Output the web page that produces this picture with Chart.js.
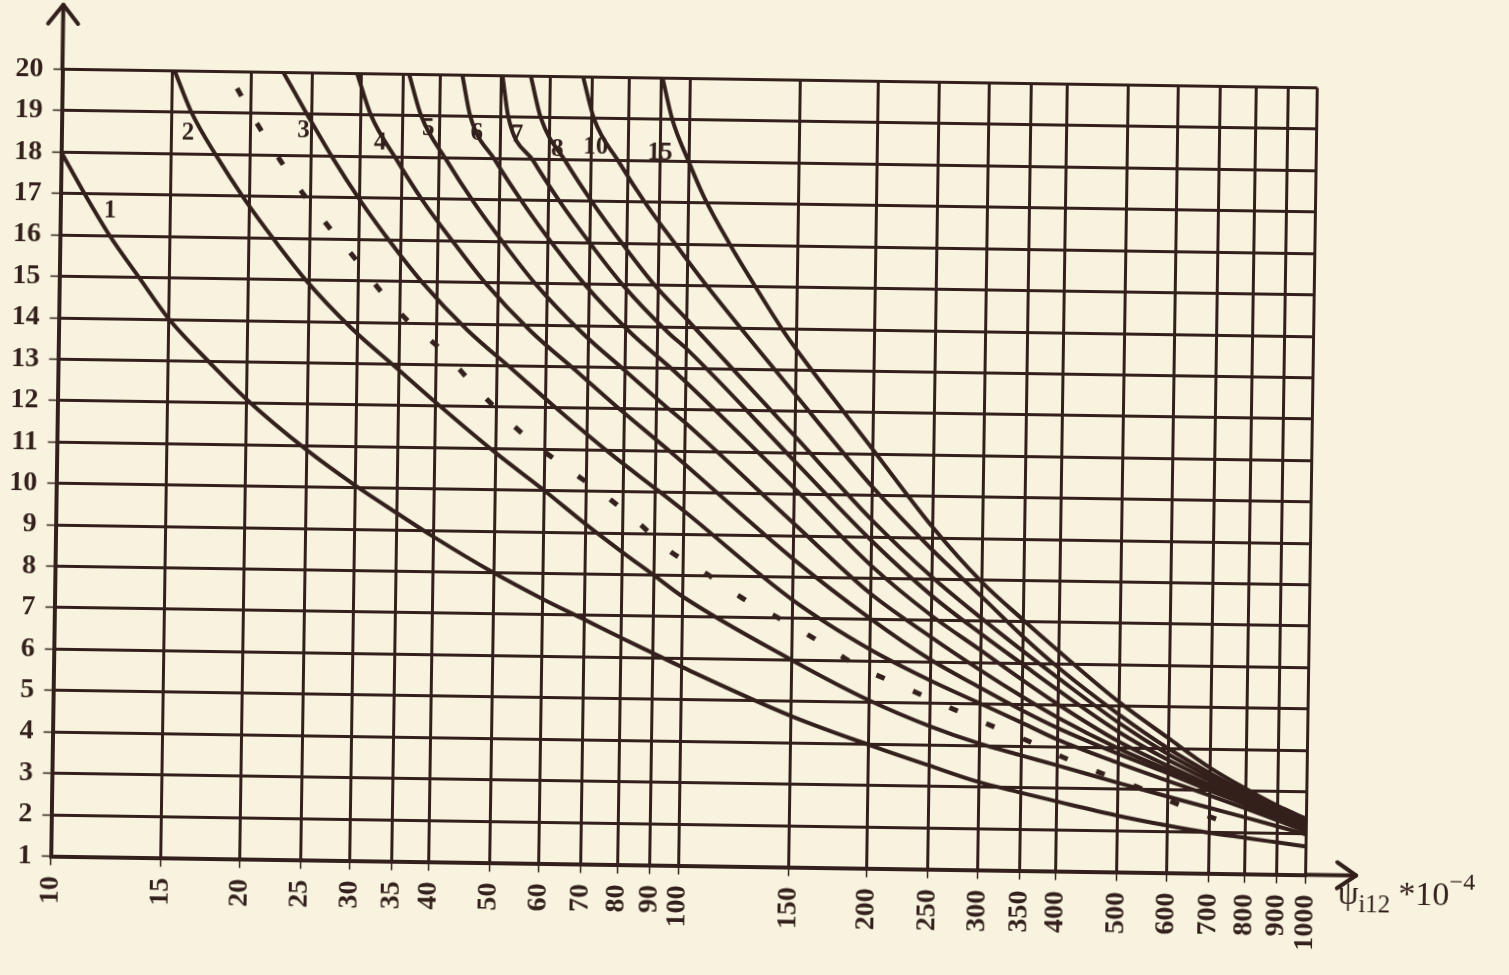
<!DOCTYPE html>
<html><head><meta charset="utf-8">
<script src="https://cdn.jsdelivr.net/npm/chart.js@4.4.1/dist/chart.umd.min.js"></script>
<style>
html,body{margin:0;padding:0;background:#f8f3de;overflow:hidden;width:1509px;height:975px;}
#wrap{position:absolute;left:0;top:0;width:1509px;height:975px;transform:rotate(0.85deg);transform-origin:684px 472px;}
canvas{display:block;}
</style></head><body>
<div id="wrap"><canvas id="c" width="1509" height="975"></canvas></div>
<script>
// ---- data ----
const xTicks = [10,15,20,25,30,35,40,50,60,70,80,90,100,150,200,250,300,350,400,500,600,700,800,900,1000];
const yTicks = [1,2,3,4,5,6,7,8,9,10,11,12,13,14,15,16,17,18,19,20];

const curve1X = [10,11,12,13.4,15,17.5,20,25,30,35,40,50,60,70,80,90,100,150,200,250,300,350,400,500,600,700,800,900,1000];
const curve1Y = [18,16.92,16.0,15.0,14.0,12.95,12.1,10.9,10.05,9.4,8.85,8.0,7.38,6.9,6.48,6.12,5.8,4.65,3.98,3.5,3.12,2.88,2.68,2.36,2.14,1.98,1.87,1.77,1.68];

const curve2X = [15.1,16.1,17.7,19.6,22.1,24.7,29.3,35,40,50,60,70,80,90,100,150,200,250,300,350,400,500,600,700,800,900,1000];
const curve2Y = [20,19,17.95,16.95,15.9,15.0,13.85,12.85,12.1,10.9,10.0,9.2,8.55,8.0,7.5,6.0,5.05,4.45,4.05,3.78,3.55,3.15,2.84,2.58,2.36,2.16,1.97];

const dashX = [19,20.5,22.3,24.3,26.6,29.7,33.2,36.3,41.2,45.8,51.3,57.4,65.8,75,85,95,108,124,145,166,190,226,260,300,356,405,466,536,625,728];
const dashY = [19.6,18.75,17.9,17.1,16.35,15.5,14.6,14.0,13.3,12.55,11.8,11.15,10.5,9.9,9.25,8.6,8.1,7.5,6.95,6.45,5.9,5.4,5.0,4.6,4.15,3.77,3.4,3.06,2.65,2.28];

const curve3X = [22.5,24.6,27.1,30.0,33.8,37.8,44.8,53.6,61.2,76.5,91.8,100,150,200,250,300,350,400,500,600,700,800,900,1000];
const curve3Y = [20,19,17.95,16.95,15.9,15.0,13.85,12.85,12.1,10.9,10.0,9.57,7.45,6.28,5.55,5.02,4.57,4.17,3.63,3.22,2.88,2.58,2.3,2.05];

const curve4X = [29.5,31.1,34.2,37.8,42.7,47.7,56.5,67.6,77.2,96.5,150,200,250,300,350,400,500,600,700,800,900,1000];
const curve4Y = [20,19,17.95,16.95,15.9,15.0,13.85,12.85,12.1,10.9,8.44,7.02,6.05,5.4,4.87,4.45,3.85,3.4,3.0,2.67,2.36,2.09];

const curve5X = [35.7,37.4,41.1,45.5,51.3,57.3,68,81.2,92.8,100,150,200,250,300,350,400,500,600,700,800,900,1000];
const curve5Y = [20,19,17.95,16.95,15.9,15.0,13.85,12.85,12.1,11.7,9.3,7.62,6.6,5.82,5.2,4.7,3.98,3.48,3.07,2.72,2.4,2.12];

const curve6X = [43.4,44.8,49.2,54.5,61.4,68.7,81.5,97.3,150,200,250,300,350,400,500,600,700,800,900,1000];
const curve6Y = [20,19,17.95,16.95,15.9,15.0,13.85,12.85,10.15,8.3,7.12,6.3,5.6,5.02,4.15,3.58,3.14,2.77,2.45,2.16];

const curve7X = [50.3,51.5,56.6,62.7,70.7,79,93.8,100,150,200,250,300,350,400,500,600,700,800,900,1000];
const curve7Y = [20,19,17.95,16.95,15.9,15.0,13.85,13.49,10.8,8.9,7.6,6.7,5.98,5.36,4.38,3.72,3.24,2.83,2.49,2.19];

const curve8X = [55.8,58,63.7,70.6,79.6,88.9,100,150,200,250,300,350,400,500,600,700,800,900,1000];
const curve8Y = [20,19,17.95,16.95,15.9,15.0,14.2,11.4,9.4,8.05,7.08,6.3,5.65,4.6,3.86,3.33,2.9,2.53,2.22];

const curve10X = [67.6,70.5,77.5,85.8,96.8,107,150,200,250,300,350,400,500,600,700,800,900,1000];
const curve10Y = [20,19,17.95,16.95,15.9,15.05,12.4,10.2,8.7,7.6,6.65,5.9,4.8,4.0,3.42,2.97,2.6,2.28];

const curve15X = [90.5,94,100,106,117,128,142,150,200,250,300,350,400,500,600,700,800,900,1000];
const curve15Y = [20,19,18,17.15,16,15.05,14.0,13.5,11.1,9.25,7.95,7.05,6.3,5.1,4.25,3.55,3.05,2.65,2.35];

const curveNames = ['1','2','3','4','5','6','7','8','10','15'];
const labelX = [12.0,15.9,24.3,32.2,38.4,45.9,53.2,61.7,71.1,90];
const labelY = [16.6,18.5,18.6,18.33,18.7,18.6,18.58,18.23,18.3,18.2];

// ---- drawing ----
const INK = '#33201c';
const SERIF = '"Liberation Serif", "DejaVu Serif", serif';
const pts = (xs, ys) => xs.map((x, i) => ({x: x, y: ys[i]}));
const solid = (xs, ys) => ({data: pts(xs, ys), borderColor: INK, borderWidth: 4, pointRadius: 0,
  cubicInterpolationMode: 'monotone', fill: false});

const datasets = [
  solid(curve1X, curve1Y), solid(curve2X, curve2Y), solid(curve3X, curve3Y), solid(curve4X, curve4Y),
  solid(curve5X, curve5Y), solid(curve6X, curve6Y), solid(curve7X, curve7Y), solid(curve8X, curve8Y),
  solid(curve10X, curve10Y), solid(curve15X, curve15Y),
  {data: pts(dashX, dashY), borderColor: INK, borderWidth: 5, borderDash: [9, 31], pointRadius: 0,
   cubicInterpolationMode: 'monotone', fill: false}
];

const extras = {
  id: 'extras',
  afterDraw(chart) {
    const ctx = chart.ctx, a = chart.chartArea, xs = chart.scales.x, ys = chart.scales.y;
    ctx.save();
    ctx.strokeStyle = INK; ctx.fillStyle = INK; ctx.lineWidth = 4; ctx.lineCap = 'round'; ctx.lineJoin = 'round';
    // y axis extension + arrow
    ctx.beginPath(); ctx.moveTo(a.left, a.top); ctx.lineTo(a.left, 14); ctx.stroke();
    ctx.beginPath(); ctx.moveTo(a.left - 15, 33); ctx.lineTo(a.left, 14); ctx.lineTo(a.left + 15, 33); ctx.stroke();
    // x axis extension + arrow
    ctx.beginPath(); ctx.moveTo(a.right, a.bottom); ctx.lineTo(1362, a.bottom); ctx.stroke();
    ctx.beginPath(); ctx.moveTo(1343, a.bottom - 13); ctx.lineTo(1362, a.bottom); ctx.lineTo(1343, a.bottom + 13); ctx.stroke();
    // axis title  ψi12 *10^-4
    let x = 1344; const base = 894;
    ctx.textBaseline = 'alphabetic'; ctx.textAlign = 'left';
    ctx.font = '33px ' + SERIF; ctx.fillText('ψ', x, base); x += ctx.measureText('ψ').width;
    ctx.font = '25px ' + SERIF; ctx.fillText('i12', x, base + 8); x += ctx.measureText('i12').width + 8;
    ctx.font = '34px ' + SERIF; ctx.fillText('*10', x, base); x += ctx.measureText('*10').width;
    ctx.font = '24px ' + SERIF; ctx.fillText('\u22124', x, base - 16);
    // curve labels
    ctx.font = 'bold 25px ' + SERIF; ctx.textAlign = 'center'; ctx.textBaseline = 'middle';
    curveNames.forEach((n, i) => {
      ctx.fillText(n, xs.getPixelForValue(labelX[i]), ys.getPixelForValue(labelY[i]));
    });
    ctx.restore();
  }
};

new Chart(document.getElementById('c'), {
  type: 'line',
  data: {datasets: datasets},
  options: {
    responsive: false, animation: false, devicePixelRatio: 1,
    layout: {padding: {left: 0, right: 197.5, top: 78.5, bottom: 0}},
    plugins: {legend: {display: false}, tooltip: {enabled: false}},
    scales: {
      x: {type: 'logarithmic', min: 10, max: 1000,
        afterBuildTicks: s => { s.ticks = xTicks.map(v => ({value: v})); },
        afterFit: s => { s.height = 975 - 865.5; },
        ticks: {autoSkip: false, maxRotation: 90, minRotation: 90, padding: 11, color: INK,
          font: {family: SERIF, size: 28, weight: 'bold'}, callback: v => String(v)},
        grid: {color: INK, lineWidth: 3, drawTicks: true, tickLength: 9, tickWidth: 1.5, tickColor: INK},
        border: {color: INK, width: 4}
      },
      y: {type: 'linear', min: 1, max: 20,
        afterBuildTicks: s => { s.ticks = yTicks.map(v => ({value: v})); },
        afterFit: s => { s.width = 56.5; },
        ticks: {padding: 10, color: INK, font: {family: SERIF, size: 28, weight: 'bold'}, callback: v => String(v)},
        grid: {color: INK, lineWidth: 3, drawTicks: true, tickLength: 9, tickWidth: 1.5, tickColor: INK},
        border: {color: INK, width: 4}
      }
    }
  },
  plugins: [extras]
});
</script>
</body></html>
